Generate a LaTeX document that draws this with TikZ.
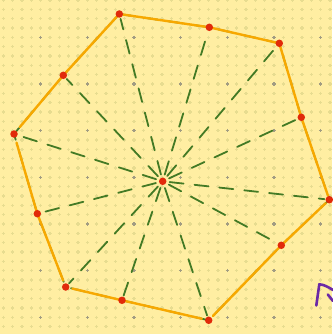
\documentclass[tikz,border=0pt]{standalone}
\usepackage{xcolor}
\definecolor{bgc}{HTML}{FFEEA2}
\definecolor{lightdot}{HTML}{E7DC90}
\definecolor{darkdot}{HTML}{A29D82}
\definecolor{orangec}{HTML}{F7A800}
\definecolor{greenc}{HTML}{437A25}
\definecolor{redc}{HTML}{E12A0A}
\definecolor{purplec}{HTML}{6B2AA6}
\begin{document}
\begin{tikzpicture}[x=1pt,y=-1pt,
  gdash/.style={greenc,line width=1.8pt,dash pattern=on 14pt off 11pt,line cap=round},
  oline/.style={orangec,line width=2.4pt,line cap=round,line join=round},
  rdot/.style={circle,fill=redc,inner sep=0pt,minimum size=7.5pt}]
\fill[bgc] (0,0) rectangle (332,334);
\useasboundingbox (0,0) rectangle (332,334);
% light grid crosses
\foreach \i in {0,...,35}{
  \foreach \j in {0,...,36}{
    \draw[lightdot,line width=1.2pt] ({3.333+9.333*\i-1.8},{9.333*\j}) -- ({3.333+9.333*\i+1.8},{9.333*\j})
      ({3.333+9.333*\i},{9.333*\j-1.8}) -- ({3.333+9.333*\i},{9.333*\j+1.8});
  }
}
% dark grid crosses
\foreach \i in {0,...,7}{
  \foreach \j in {0,...,7}{
    \draw[darkdot,line width=1.2pt] ({-6+46.667*\i-1.8},{37.333+46.667*\j-46.667}) -- ({-6+46.667*\i+1.8},{37.333+46.667*\j-46.667})
      ({-6+46.667*\i},{37.333+46.667*\j-46.667-1.8}) -- ({-6+46.667*\i},{37.333+46.667*\j-46.667+1.8});
  }
}
% points
\coordinate (c) at (162.7,181.3);
\coordinate (p1) at (119.3,14);
\coordinate (p2) at (63.3,75.3);
\coordinate (p3) at (14,134);
\coordinate (p4) at (209.3,27.3);
\coordinate (p5) at (279.3,43.3);
\coordinate (p6) at (301.3,117.3);
\coordinate (p7) at (329.3,199.7);
\coordinate (p8) at (281.3,245.3);
\coordinate (p9) at (208.7,320.3);
\coordinate (p10) at (122,300.3);
\coordinate (p11) at (65.7,287);
\coordinate (p12) at (37.3,213.7);
% green dashed spokes
\foreach \p in {p1,p2,p3,p4,p5,p6,p7,p8,p9,p10,p11,p12}{
  \draw[gdash,shorten <=7pt,shorten >=5pt] (c) -- (\p);
}
% green dashed perimeter
\draw[gdash] (p1) -- (p4) -- (p5) -- (p6) -- (p7) -- (p8) -- (p9) -- (p10) -- (p11) -- (p12) -- (p3) -- (p2) -- cycle;
% orange edges
\draw[oline,shorten <=4pt,shorten >=1pt] (p1) -- (p4) -- (p5);
\draw[oline,shorten <=0pt,shorten >=4pt] (p5) -- (p6) -- (p7);
\draw[oline,shorten <=5pt,shorten >=6pt] (p7) -- (p8) -- (p9);
\draw[oline,shorten <=7pt,shorten >=7pt] (p9) -- (p10) -- (p11);
\draw[oline,shorten <=7pt,shorten >=9pt] (p11) -- (p12) -- (p3);
\draw[oline,shorten <=9pt,shorten >=4pt] (p3) -- (p2) -- (p1);
% red dots
\foreach \p in {c,p1,p2,p3,p4,p5,p6,p7,p8,p9,p10,p11,p12}{
  \node[rdot] (d\p) at (\p) {};
}
% purple partial stroke
\draw[purplec,line width=2.6pt,line cap=round,line join=round] (316.3,305.5) -- (319.3,284.3) .. controls (324,284.5) and (328,287) .. (333,290);
\draw[purplec,line width=2.6pt,line cap=round] (327.8,294.5) -- (333,301);
\end{tikzpicture}
\end{document}
